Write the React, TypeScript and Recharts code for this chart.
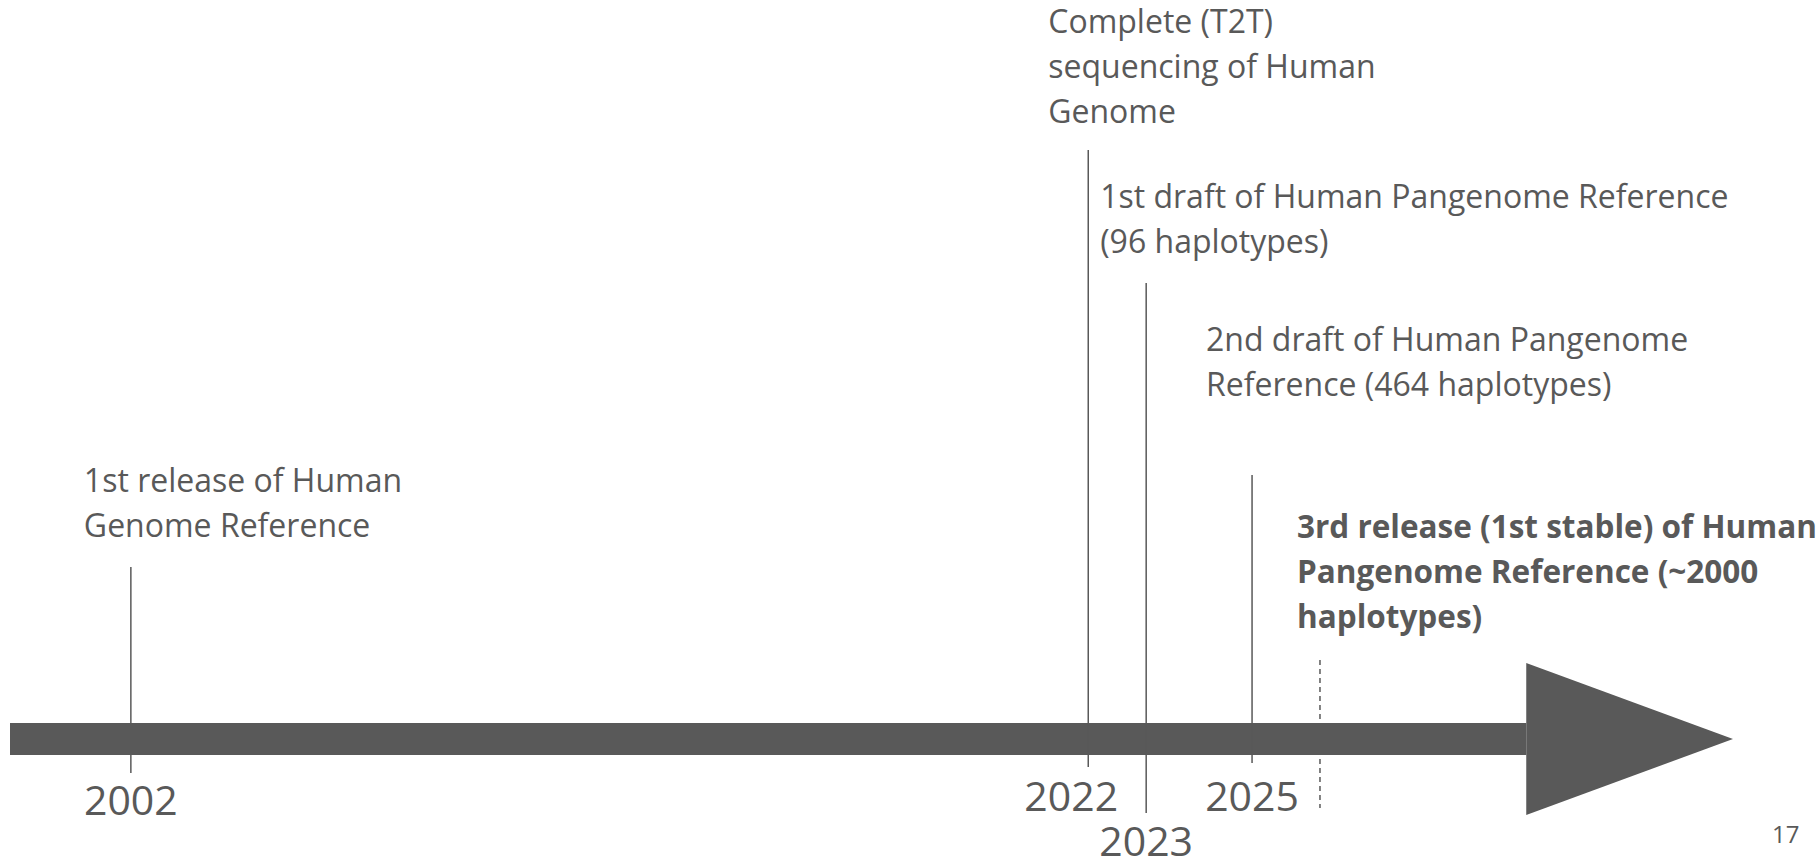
import React from "react";
import {
  ComposedChart,
  XAxis,
  YAxis,
  Scatter,
  ReferenceLine,
  ReferenceArea,
} from "recharts";

const eventDates = [2002.92, 2022.09, 2023.25, 2025.37, 2026.73];
const eventLabels = [
  ["1st release of Human", "Genome Reference"],
  ["Complete (T2T)", "sequencing of Human", "Genome"],
  ["1st draft of Human Pangenome Reference", "(96 haplotypes)"],
  ["2nd draft of Human Pangenome", "Reference (464 haplotypes)"],
  ["3rd release (1st stable) of Human", "Pangenome Reference (~2000", "haplotypes)"],
];
const tentative = [false, false, false, false, true];
const highlighted = [false, false, false, false, true];

// year tick labels under the arrow
const tickDates = [2002.92, 2022.09, 2023.25, 2025.37];
const yearLabels = ["2002", "2022", "2023", "2025"];

// layout (px above the arrow's centre line)
const stemTop = [172, 589, 456, 264, 79];
const stemBottom = [-34, -28, -74, -24, -69];
const labelLevel = [247, 706, 531, 388, 201];
const labelDx = [-47, -40, -46, -46, -23];
const yearDx = [0, -17, 0, 0];
const yearDy = [42, 38, 83, 38];

const GREY = "#595959";
const FONT = '"Open Sans", sans-serif';
const ARROW_HEAD_START = 2030.86;
const X_DOMAIN: [number, number] = [2000.5, 2035];

const tableData = eventDates.map((d, i) => ({
  date: d,
  level: labelLevel[i],
  lines: eventLabels[i],
  bold: highlighted[i],
  dx: labelDx[i],
}));

function EventLabel(props: any) {
  const { cx, cy, payload } = props;
  if (cx == null || cy == null) return null;
  const x = cx + payload.dx;
  return (
    <text
      x={x}
      y={cy}
      fill={GREY}
      fontSize={payload.bold ? 31.5 : 32}
      fontFamily={FONT}
      fontWeight={payload.bold ? 700 : 400}
    >
      {payload.lines.map((ln: string, k: number) => (
        <tspan key={k} x={x} dy={k === 0 ? 0 : 45}>
          {ln}
        </tspan>
      ))}
    </text>
  );
}

function YearTick(props: any) {
  const { x, y, index } = props;
  return (
    <text
      x={x + yearDx[index]}
      y={y + yearDy[index]}
      textAnchor="middle"
      fill={GREY}
      fontSize={41}
      fontFamily={FONT}
    >
      {yearLabels[index]}
    </text>
  );
}

function ArrowHead(props: any) {
  const { x, y, width, height } = props;
  return (
    <polygon
      points={`${x},${y} ${x + width},${y + height / 2} ${x},${y + height}`}
      fill={GREY}
    />
  );
}

export default function App() {
  return (
    <div
      style={{
        position: "absolute",
        left: 0,
        top: 0,
        width: 1818,
        height: 864,
        background: "#fff",
        fontFamily: FONT,
      }}
    >
      <ComposedChart
        width={1818}
        height={864}
        data={tableData}
        margin={{ top: 0, right: 85, bottom: 0, left: 10 }}
      >
        <XAxis
          dataKey="date"
          type="number"
          domain={X_DOMAIN}
          ticks={tickDates}
          interval={0}
          axisLine={false}
          tickLine={false}
          tickSize={0}
          tickMargin={0}
          height={91}
          tick={<YearTick />}
        />
        <YAxis dataKey="level" type="number" domain={[-34, 739]} hide />
        <ReferenceArea
          x1={X_DOMAIN[0]}
          x2={ARROW_HEAD_START}
          y1={-16}
          y2={16}
          fill={GREY}
          fillOpacity={1}
          stroke="none"
          ifOverflow="visible"
        />
        <ReferenceArea
          x1={ARROW_HEAD_START}
          x2={X_DOMAIN[1]}
          y1={-76}
          y2={76}
          ifOverflow="visible"
          shape={<ArrowHead />}
        />
        {eventDates.map((d, i) => (
          <ReferenceLine
            key={i}
            segment={[
              { x: d, y: stemTop[i] },
              { x: d, y: stemBottom[i] },
            ]}
            stroke={GREY}
            strokeWidth={1.5}
            strokeDasharray={tentative[i] ? "5 4" : undefined}
            ifOverflow="visible"
          />
        ))}
        <Scatter
          dataKey="level"
          isAnimationActive={false}
          shape={<EventLabel />}
        />
      </ComposedChart>
      <div
        style={{
          position: "absolute",
          left: 1772,
          top: 822,
          fontSize: 24,
          lineHeight: "24px",
          color: GREY,
        }}
      >
        17
      </div>
    </div>
  );
}
